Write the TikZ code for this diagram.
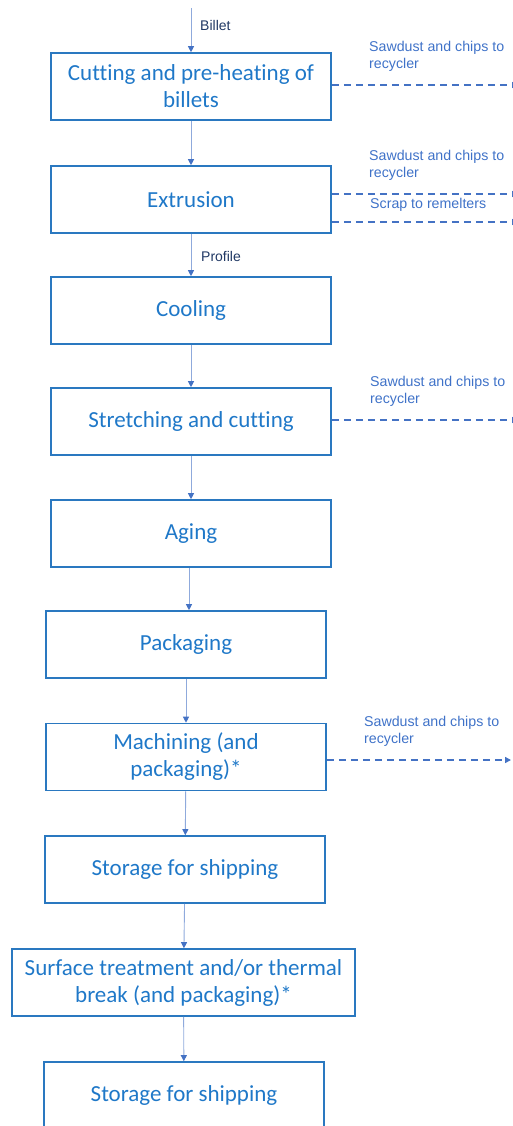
\documentclass[tikz,border=0pt]{standalone}
\usepackage{fontspec}
\setmainfont{Carlito}[Ligatures=NoCommon]
\newfontfamily\notefont{Liberation Sans}
\usetikzlibrary{arrows.meta,positioning}
\definecolor{boxblue}{HTML}{2A78C0}
\definecolor{textblue}{HTML}{1F78C8}
\definecolor{lineblue}{HTML}{8FAADC}
\definecolor{tipblue}{HTML}{4472C4}
\definecolor{dashblue}{HTML}{4472C4}
\definecolor{noteblue}{HTML}{3F72C8}
\definecolor{flowdark}{HTML}{203864}

\begin{document}
\begin{tikzpicture}[x=1pt, y=-1pt,
    box/.style={rectangle, draw=boxblue, line width=1.6pt, minimum width=280pt, minimum height=67pt, align=center, text=textblue, inner sep=0pt, font=\fontsize{23}{27}\selectfont},
    arrow/.style={-{Triangle[length=6pt, width=6pt, color=tipblue]}, draw=lineblue, line width=0.9pt},
    waste/.style={-{Triangle[length=6pt, width=6pt]}, draw=dashblue, line width=1.4pt, dash pattern=on 7pt off 5pt},
    note/.style={anchor=west, align=left, inner sep=0pt, text=noteblue, font=\notefont\fontsize{14.2}{17}\selectfont},
    flow/.style={anchor=west, inner sep=0pt, text=flowdark, font=\notefont\fontsize{14}{17}\selectfont}
]
\useasboundingbox (0,0) rectangle (512,1126);

% Nodes
\node[box] (cutting) at (191,86.5) {Cutting and pre-heating of\\billets};
\node[box] (extrusion) at (191,199.5) {Extrusion};
\node[box] (cooling) at (191,310.5) {Cooling};
\node[box] (stretching) at (191,421.5) {Stretching and cutting};
\node[box] (aging) at (191,533.5) {Aging};
\node[box] (packaging) at (186,644.5) {Packaging};
\node[box] (machining) at (186,757) {Machining (and\\packaging)*};
\node[box] (storage1) at (185,869.5) {Storage for shipping};
\node[box, minimum width=343pt] (surface) at (183.5,982.5) {Surface treatment and/or thermal\\break (and packaging)*};
\node[box] (storage2) at (184,1095.5) {Storage for shipping};

\coordinate (billet) at (191,8);
\coordinate (edge) at (518,0);
\coordinate (edgeb) at (511,0);

% Main flow
\draw[arrow] (billet) -- (cutting);
\node[flow] (billetlbl) at (200,25) {Billet};
\draw[arrow] (cutting) -- (extrusion);
\draw[arrow] (extrusion) -- (cooling);
\node[flow] (profilelbl) at (201,256) {Profile};
\draw[arrow] (cooling) -- (stretching);
\draw[arrow] (stretching) -- (aging);
\draw[arrow] (aging.south -| 189,0) -- (packaging.north -| 189,0);
\draw[arrow] (packaging) -- (machining);
\draw[arrow] (machining) -- (storage1);
\draw[arrow] (storage1) -- (surface);
\draw[arrow] (surface) -- (storage2);

% Waste streams
\draw[waste] ([yshift=1.5pt]cutting.east) -- ([yshift=1.5pt]cutting.east -| edge);
\node[note] (cutnote) at (369,56) {Sawdust and chips to\\recycler};
\draw[waste] ([yshift=5.5pt]extrusion.east) -- ([yshift=5.5pt]extrusion.east -| edge);
\draw[waste] ([yshift=-22.5pt]extrusion.east) -- ([yshift=-22.5pt]extrusion.east -| edge);
\node[note] (extnote) at (369,165) {Sawdust and chips to\\recycler};
\node[note] (scrapnote) at (370,205) {Scrap to remelters};
\draw[waste] ([yshift=1.5pt]stretching.east) -- ([yshift=1.5pt]stretching.east -| edge);
\node[note] (strnote) at (370,391) {Sawdust and chips to\\recycler};
\draw[waste] ([yshift=-3pt]machining.east) -- ([yshift=-3pt]machining.east -| edgeb);
\node[note] (macnote) at (364,731.5) {Sawdust and chips to\\recycler};

\end{tikzpicture}
\end{document}
